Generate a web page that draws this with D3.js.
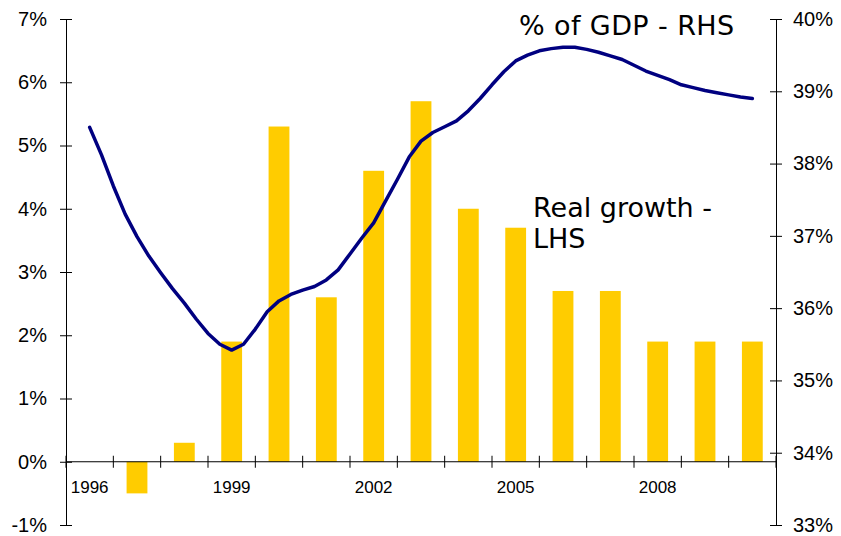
<!DOCTYPE html>
<html>
<head>
<meta charset="utf-8">
<script src="https://cdn.jsdelivr.net/npm/d3@7"></script>
<style>
  body { margin: 0; background: #fff; }
  svg { display: block; }
</style>
</head>
<body>
<div id="chart"><svg></svg></div>
<script>
// real growth, % (left axis)
const years = [1996, 1997, 1998, 1999, 2000, 2001, 2002, 2003, 2004, 2005, 2006, 2007, 2008, 2009, 2010];
const growth = [0, -0.5, 0.3, 1.9, 5.3, 2.6, 4.6, 5.7, 4.0, 3.7, 2.7, 2.7, 1.9, 1.9, 1.9];

// % of GDP, quarterly from 1996 Q1 (right axis)
const gdpStart = 1996;
const gdpShare = [38.50, 38.12, 37.69, 37.30, 36.99, 36.72, 36.49, 36.27,
    36.07, 35.85, 35.65, 35.50, 35.42, 35.50, 35.71, 35.95,
    36.10, 36.19, 36.25, 36.30, 36.39, 36.53, 36.75, 36.97,
    37.18, 37.48, 37.78, 38.09, 38.31, 38.43, 38.51, 38.59,
    38.73, 38.90, 39.09, 39.27, 39.42, 39.50, 39.56, 39.59,
    39.61, 39.61, 39.58, 39.54, 39.49, 39.44, 39.36, 39.28,
    39.22, 39.16, 39.09, 39.05, 39.01, 38.98, 38.95, 38.92, 38.90];

const yearLabels = [1996, 1999, 2002, 2005, 2008];
const leftTicks = [-1, 0, 1, 2, 3, 4, 5, 6, 7];
const rightTicks = [33, 34, 35, 36, 37, 38, 39, 40];

const width = 841, height = 536;
const plotL = 66, plotR = 776, plotT = 19, plotB = 525;

const svg = d3.select("#chart svg")
    .attr("width", width)
    .attr("height", height);

const xScale = d3.scaleBand().domain(years).range([plotL, plotR])
    .paddingInner(0.56).paddingOuter(0.28);
const step = xScale.step();
const bw = xScale.bandwidth();
const center = d => xScale(d) + bw / 2;

const yLeft = d3.scaleLinear().domain([-1, 7]).range([plotB, plotT]);
const yRight = d3.scaleLinear().domain([33, 40]).range([plotB, plotT]);
const xTime = d3.scaleLinear().domain([1996, 2010]).range([center(1996), center(2010)]);

// bars
svg.selectAll(".bar")
    .data(years)
    .enter()
    .append("rect")
    .attr("class", "bar")
    .attr("x", d => xScale(d))
    .attr("width", bw)
    .attr("y", (d, i) => yLeft(Math.max(0, growth[i])))
    .attr("height", (d, i) => Math.abs(yLeft(growth[i]) - yLeft(0)))
    .attr("fill", "#FFCC00");

// left axis
const yAxisL = d3.axisLeft(yLeft).tickValues(leftTicks)
    .tickSize(6).tickSizeOuter(0).tickPadding(13)
    .tickFormat(d => d + "%");
const gL = svg.append("g").attr("transform", `translate(${plotL},0)`).call(yAxisL);
gL.selectAll(".tick line").attr("x1", 6);

// right axis
const yAxisR = d3.axisRight(yRight).tickValues(rightTicks)
    .tickSize(6).tickSizeOuter(0).tickPadding(11)
    .tickFormat(d => d + "%");
const gR = svg.append("g").attr("transform", `translate(${plotR},0)`).call(yAxisR);
gR.selectAll(".tick line").attr("x1", -6);

[gL, gR].forEach(g => {
    g.select(".domain").attr("stroke", "#000");
    g.selectAll(".tick line").attr("stroke", "#000");
    g.selectAll("text")
        .attr("font-family", "Arial, 'Liberation Sans', sans-serif")
        .attr("font-size", "20px")
        .attr("fill", "#000");
});

// category axis at zero
const y0 = yLeft(0);
svg.append("line")
    .attr("x1", plotL).attr("x2", plotR)
    .attr("y1", y0).attr("y2", y0)
    .attr("stroke", "#000");

const bounds = years.map(d => center(d) - step / 2).concat([center(2010) + step / 2]);
svg.selectAll(".xtick")
    .data(bounds)
    .enter()
    .append("line")
    .attr("class", "xtick")
    .attr("x1", d => d).attr("x2", d => d)
    .attr("y1", y0 - 6).attr("y2", y0 + 6)
    .attr("stroke", "#000");

svg.selectAll(".xlabel")
    .data(yearLabels)
    .enter()
    .append("text")
    .attr("class", "xlabel")
    .attr("x", d => center(d))
    .attr("y", y0 + 31)
    .attr("text-anchor", "middle")
    .attr("font-family", "Arial, 'Liberation Sans', sans-serif")
    .attr("font-size", "17px")
    .text(d => d);

// line
const line = d3.line()
    .x((d, i) => xTime(gdpStart + i / 4))
    .y(d => yRight(d));

svg.append("path")
    .datum(gdpShare)
    .attr("d", line)
    .attr("fill", "none")
    .attr("stroke", "#000080")
    .attr("stroke-width", 3.5)
    .attr("stroke-linejoin", "round")
    .attr("stroke-linecap", "round");

// series labels
const labelFont = "Verdana, 'DejaVu Sans', sans-serif";
svg.append("text")
    .attr("x", 519).attr("y", 35)
    .attr("font-family", labelFont)
    .attr("font-size", "27px")
    .attr("letter-spacing", "0.4px")
    .text("% of GDP - RHS");

svg.append("text")
    .attr("x", 533).attr("y", 217)
    .attr("font-family", labelFont)
    .attr("font-size", "27px")
    .text("Real growth -");

svg.append("text")
    .attr("x", 533).attr("y", 248)
    .attr("font-family", labelFont)
    .attr("font-size", "27px")
    .text("LHS");
</script>
</body>
</html>
